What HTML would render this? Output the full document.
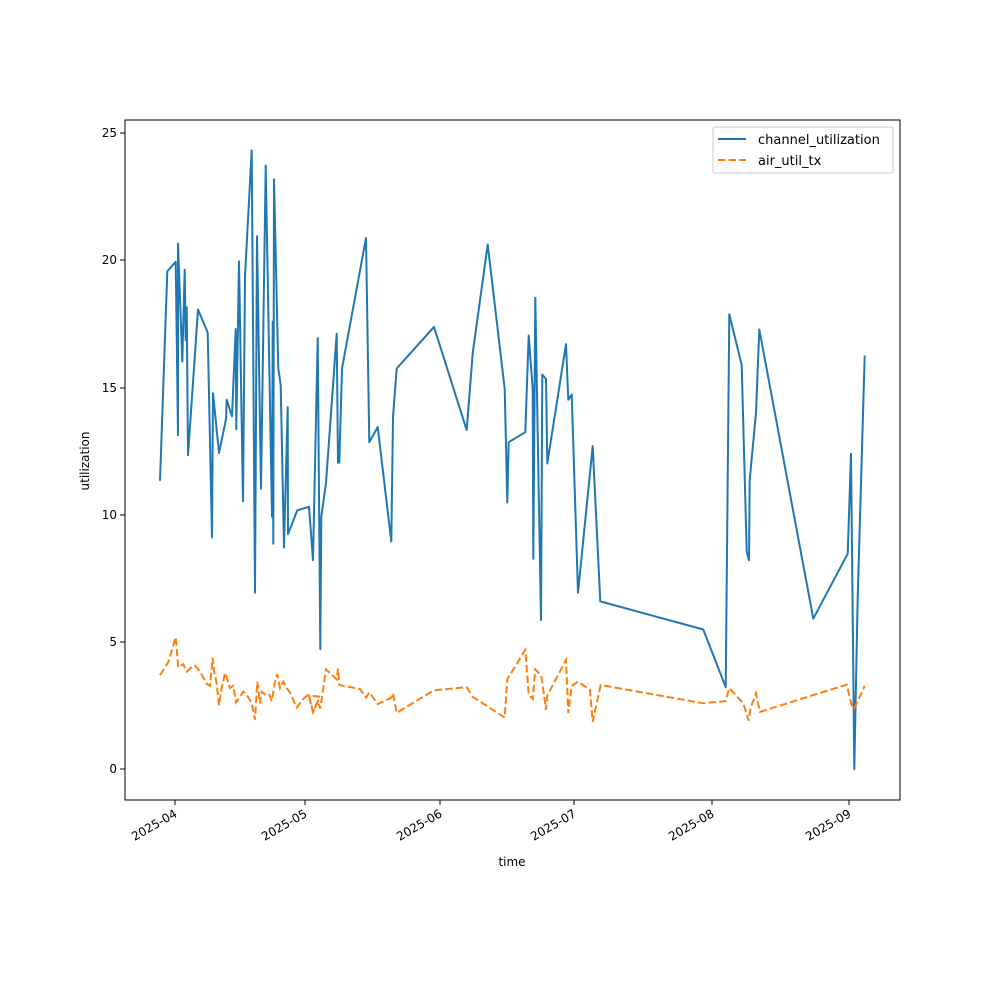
<!DOCTYPE html>
<html><head><meta charset="utf-8"><style>
html,body{margin:0;padding:0;background:#fff;}
svg{display:block;font-family:"DejaVu Sans","Liberation Sans",sans-serif;}
</style></head><body>
<svg id="s" width="1000" height="1000" viewBox="0 0 1000 1000" xmlns="http://www.w3.org/2000/svg">
<rect width="1000" height="1000" fill="#fff"/>
<g id="lines"></g>
<rect x="125" y="120" width="775" height="680" fill="none" stroke="#000" stroke-width="1"/>
<g font-size="12" fill="#000" text-anchor="end">
<line x1="120" y1="769" x2="125" y2="769" stroke="#000"/><text x="117" y="773">0</text>
<line x1="120" y1="642" x2="125" y2="642" stroke="#000"/><text x="117" y="646">5</text>
<line x1="120" y1="515" x2="125" y2="515" stroke="#000"/><text x="117" y="519">10</text>
<line x1="120" y1="388" x2="125" y2="388" stroke="#000"/><text x="117" y="392">15</text>
<line x1="120" y1="260" x2="125" y2="260" stroke="#000"/><text x="117" y="264">20</text>
<line x1="120" y1="133" x2="125" y2="133" stroke="#000"/><text x="117" y="137">25</text>
</g>
<g font-size="12" fill="#000" text-anchor="end">
<line x1="175" y1="800" x2="175" y2="805" stroke="#000"/><text transform="translate(178,816) rotate(-30)">2025-04</text>
<line x1="305" y1="800" x2="305" y2="805" stroke="#000"/><text transform="translate(308,816) rotate(-30)">2025-05</text>
<line x1="440" y1="800" x2="440" y2="805" stroke="#000"/><text transform="translate(443,816) rotate(-30)">2025-06</text>
<line x1="574" y1="800" x2="574" y2="805" stroke="#000"/><text transform="translate(577,816) rotate(-30)">2025-07</text>
<line x1="712" y1="800" x2="712" y2="805" stroke="#000"/><text transform="translate(715,816) rotate(-30)">2025-08</text>
<line x1="849" y1="800" x2="849" y2="805" stroke="#000"/><text transform="translate(852,816) rotate(-30)">2025-09</text>
</g>
<text x="512" y="866" font-size="12" text-anchor="middle">time</text>
<text transform="translate(89,461) rotate(-90)" font-size="12" text-anchor="middle">utilization</text>
<rect x="713" y="127" width="180" height="46" rx="2" fill="#fff" stroke="#ccc"/>
<line x1="718" y1="139" x2="746" y2="139" stroke="#1f77b4" stroke-width="2"/>
<text x="758" y="144" font-size="13">channel_utilization</text>
<line x1="718" y1="160" x2="746" y2="160" stroke="#ff7f0e" stroke-width="2" stroke-dasharray="7.4,3.2"/>
<text x="758" y="165" font-size="13">air_util_tx</text>
</svg>
<script>
var K=2.306;
function conv(ox,oy,a){return a.map(function(p){return [ox+p[0]/3,oy+p[1]/K];});}
var b1=conv(140,120,[[60,832],[82,349],[107,327],[114,727],[114,285],[127,557],[134,345],[137,508],[140,432],[144,773],[174,437],[203,490],[216,962],[219,630],[237,768],[258,690],[260,645],[276,683],[287,482],[289,713],[297,326],[309,879],[315,360],[335,70],[345,1090],[351,268],[363,850],[377,105],[396,915],[398,465],[400,977],[402,137],[415,573],[422,612],[432,986],[443,662],[444,955],[472,900]]);
var b2=conv(300,120,[[27,892],[39,1015],[53,503],[61,1220],[64,915],[78,837],[110,493],[114,790],[118,790],[126,573],[198,272],[208,743],[233,708],[274,972],[279,685],[290,573],[402,477],[500,715],[518,538],[563,287],[614,620],[622,882],[626,743],[676,720],[686,497],[698,620],[700,1012],[706,410],[723,1153],[727,587],[738,597],[742,792],[798,517],[805,645],[815,633],[834,1090],[878,752]]);
var b3=conv(580,120,[[61,1110],[370,1175],[437,1308],[448,448],[485,565],[500,995],[507,1015],[509,830],[528,675],[538,483],[700,1150],[803,1000],[813,770],[823,1497],[833,1100],[854,543]]);
var o1=conv(140,120,[[60,1280],[85,1250],[107,1193],[115,1262],[130,1255],[140,1272],[150,1265],[165,1258],[180,1272],[200,1300],[210,1305],[218,1240],[222,1270],[230,1300],[237,1350],[245,1310],[255,1275],[262,1290],[270,1310],[280,1305],[288,1343],[300,1330],[310,1318],[320,1325],[335,1345],[345,1383],[352,1295],[360,1345],[365,1318],[375,1325],[388,1325],[395,1340],[405,1295],[412,1278],[420,1310],[430,1295],[440,1310],[450,1320],[470,1355],[490,1335],[505,1325],[520,1365],[540,1330]]);
var o2=conv(300,120,[[27,1327],[39,1365],[53,1340],[61,1357],[78,1267],[110,1290],[114,1265],[118,1303],[180,1312],[198,1332],[208,1320],[233,1347],[274,1332],[279,1322],[290,1367],[402,1315],[500,1308],[518,1330],[614,1378],[622,1290],[676,1222],[686,1325],[698,1335],[706,1267],[723,1280],[727,1297],[738,1360],[742,1327],[798,1245],[805,1368],[815,1305],[834,1295]]);
var o3=conv(580,120,[[0,1298],[30,1315],[38,1388],[62,1303],[370,1345],[437,1340],[448,1310],[490,1345],[506,1385],[512,1355],[528,1322],[540,1365],[800,1302],[815,1350],[823,1357],[854,1305]]);
function pts(a){return a.map(function(p){return p[0].toFixed(1)+","+p[1].toFixed(1);}).join(" ");}
var g=document.getElementById("lines");
g.innerHTML='<polyline fill="none" stroke="#1f77b4" stroke-width="2" stroke-linejoin="round" points="'+pts(b1.concat(b2,b3))+'"/>'+
'<polyline fill="none" stroke="#ff7f0e" stroke-width="2" stroke-dasharray="7.4,3.2" points="'+pts(o1.concat(o2,o3))+'"/>';
</script>
</body></html>
